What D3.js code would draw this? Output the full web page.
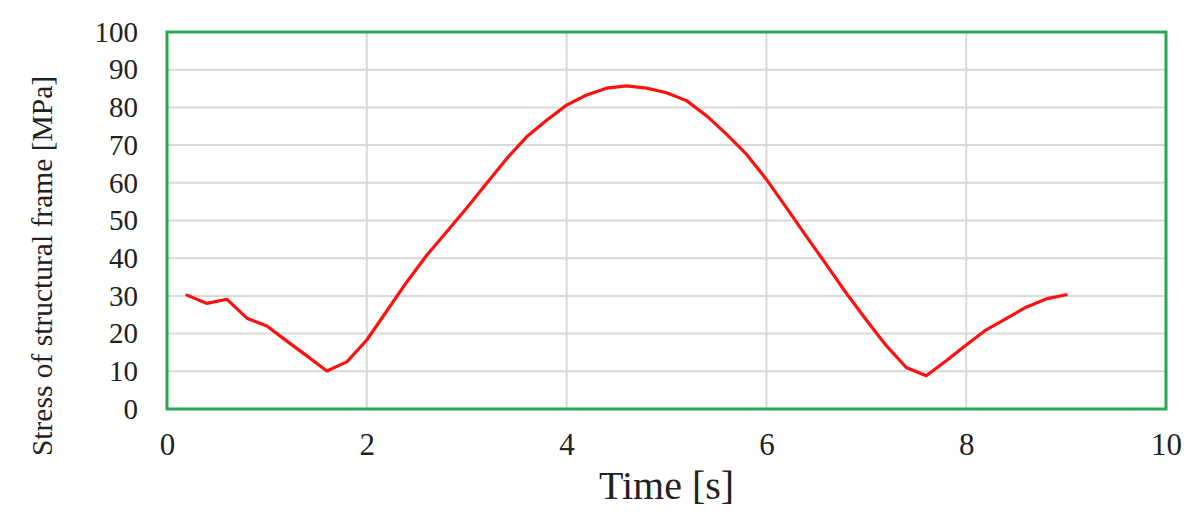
<!DOCTYPE html>
<html><head><meta charset="utf-8">
<script src="https://cdn.jsdelivr.net/npm/d3@7"></script>
<style>body{margin:0;background:#fff}svg{display:block}</style>
</head><body>
<svg id="c" width="1200" height="518"></svg>
<script>
const time = [0.2,0.4,0.6,0.8,1.0,1.2,1.4,1.6,1.8,2.0,2.2,2.4,2.6,2.8,3.0,3.2,3.4,3.6,3.8,4.0,4.2,4.4,4.6,4.8,5.0,5.2,5.4,5.6,5.8,6.0,6.2,6.4,6.6,6.8,7.0,7.2,7.4,7.6,7.8,8.0,8.2,8.4,8.6,8.8,9.0];
const stress = [30.2,28.0,29.1,24.1,22.0,18.0,14.1,10.1,12.5,18.3,26.0,33.7,40.8,47.0,53.3,59.9,66.4,72.2,76.6,80.6,83.3,85.1,85.7,85.1,83.9,81.8,77.8,72.9,67.6,60.9,53.4,45.8,38.3,30.7,23.6,16.8,11.0,8.8,12.8,17.0,21.0,24.0,27.0,29.2,30.3];
const xTicks = [0,2,4,6,8,10];
const yTicks = [0,10,20,30,40,50,60,70,80,90,100];
const xTitle = "Time [s]";
const yTitle = "Stress of structural frame [MPa]";

const svg = d3.select("#c");
const L = 167, R = 1166, T = 32, B = 409;
const x = d3.scaleLinear().domain([0,10]).range([L,R]);
const y = d3.scaleLinear().domain([0,100]).range([B,T]);
const font = "'Liberation Serif','Times New Roman',serif";

// grid
svg.append("g").selectAll("line").data(yTicks.filter(d=>d>0&&d<100)).join("line")
  .attr("x1",L).attr("x2",R).attr("y1",d=>y(d)).attr("y2",d=>y(d))
  .attr("stroke","#d9d9d9").attr("stroke-width",2);
svg.append("g").selectAll("line").data(xTicks.filter(d=>d>0&&d<10)).join("line")
  .attr("y1",T).attr("y2",B).attr("x1",d=>x(d)).attr("x2",d=>x(d))
  .attr("stroke","#d9d9d9").attr("stroke-width",2);

// axes (tick labels only)
const yAxis = d3.axisLeft(y).tickValues(yTicks).tickSize(0).tickPadding(29);
const gy = svg.append("g").attr("transform",`translate(${L},0)`).call(yAxis);
gy.select(".domain").remove();
gy.selectAll("text").attr("font-family",font).attr("font-size",29).attr("fill","#222");

const xAxis = d3.axisBottom(x).tickValues(xTicks).tickSize(0).tickPadding(24);
const gx = svg.append("g").attr("transform",`translate(0,${B})`).call(xAxis);
gx.select(".domain").remove();
gx.selectAll("text").attr("font-family",font).attr("font-size",31).attr("fill","#222");

// line
svg.append("path").datum(time.map((t,i)=>[t,stress[i]]))
  .attr("fill","none").attr("stroke","#ff1010").attr("stroke-width",3.2)
  .attr("stroke-linejoin","round").attr("stroke-linecap","round")
  .attr("d",d3.line().x(d=>x(d[0])).y(d=>y(d[1])));

// plot border
svg.append("rect").attr("x",L).attr("y",T).attr("width",R-L).attr("height",B-T)
  .attr("fill","none").attr("stroke","#2aa552").attr("stroke-width",3);

// titles
svg.append("text").attr("x",(L+R)/2).attr("y",499).attr("text-anchor","middle")
  .attr("font-family",font).attr("font-size",40).attr("fill","#222").text(xTitle);
svg.append("text").attr("transform","translate(52,266) rotate(-90)").attr("text-anchor","middle")
  .attr("font-family",font).attr("font-size",29.5).attr("fill","#222").text(yTitle);
</script>
</body></html>
